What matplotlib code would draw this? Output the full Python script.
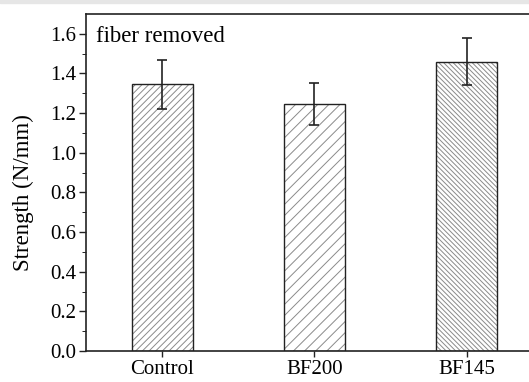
import numpy as np
import matplotlib
matplotlib.use('Agg')
import matplotlib.pyplot as plt
from matplotlib.patches import Rectangle

# Strength of samples with fiber removed
groups = ['Control', 'BF200', 'BF145']
strength = [1.345, 1.245, 1.46]
strength_err = [0.125, 0.107, 0.118]
hatches = ['/////', '///', '\\' * 7]

plt.rcParams['font.family'] = ['Liberation Serif', 'DejaVu Serif']
plt.rcParams['hatch.linewidth'] = 0.7

fig = plt.figure(figsize=(5.29, 3.82), dpi=100)
# axes run off the right edge like the cropped original
ax = fig.add_axes([86 / 529, 31 / 382, (542.7 - 86) / 529, (351 - 14) / 382])

x = np.arange(len(groups))
for i in range(len(groups)):
    # grey hatch first, then the black outline on top
    ax.bar(x[i], strength[i], width=0.4, color='white', edgecolor='#8a8a8a',
           linewidth=0, hatch=hatches[i])
    ax.bar(x[i], strength[i], width=0.4, fill=False, edgecolor='#222222',
           linewidth=1.0)
ax.errorbar(x, strength, yerr=strength_err, fmt='none', ecolor='#222222',
            elinewidth=1.2, capsize=3.5, capthick=1.2)

ax.set_xlim(-0.5, 2.5)
ax.set_ylim(0, 1.7)
ax.set_yticks(np.arange(0, 1.61, 0.2))
ax.set_yticks(np.arange(0.1, 1.7, 0.2), minor=True)
ax.set_xticks(x)
ax.set_xticklabels(groups)
ax.set_yticklabels(['%.1f' % v for v in np.arange(0, 1.61, 0.2)])
ax.tick_params(axis='both', labelsize=15, direction='out', width=1.0, color='#222222')
ax.tick_params(axis='y', which='major', length=5, pad=2)
ax.tick_params(axis='y', which='minor', length=3)
ax.tick_params(axis='x', length=4, pad=2.5)
for s in ax.spines.values():
    s.set_linewidth(1.2)
    s.set_color('#222222')

ax.set_ylabel('Strength (N/mm)', fontsize=16.5)
ax.yaxis.set_label_coords(-0.113, 0.47)
ax.text(0.022, 0.965, 'fiber removed', transform=ax.transAxes, fontsize=16.5,
        ha='left', va='top')

# thin grey band across the top of the original picture
fig.patches.append(Rectangle((0, 1 - 3 / 382), 1, 3 / 382, transform=fig.transFigure,
                             color='#e6e6e6', zorder=0))

fig.savefig('out.png', dpi=100)
